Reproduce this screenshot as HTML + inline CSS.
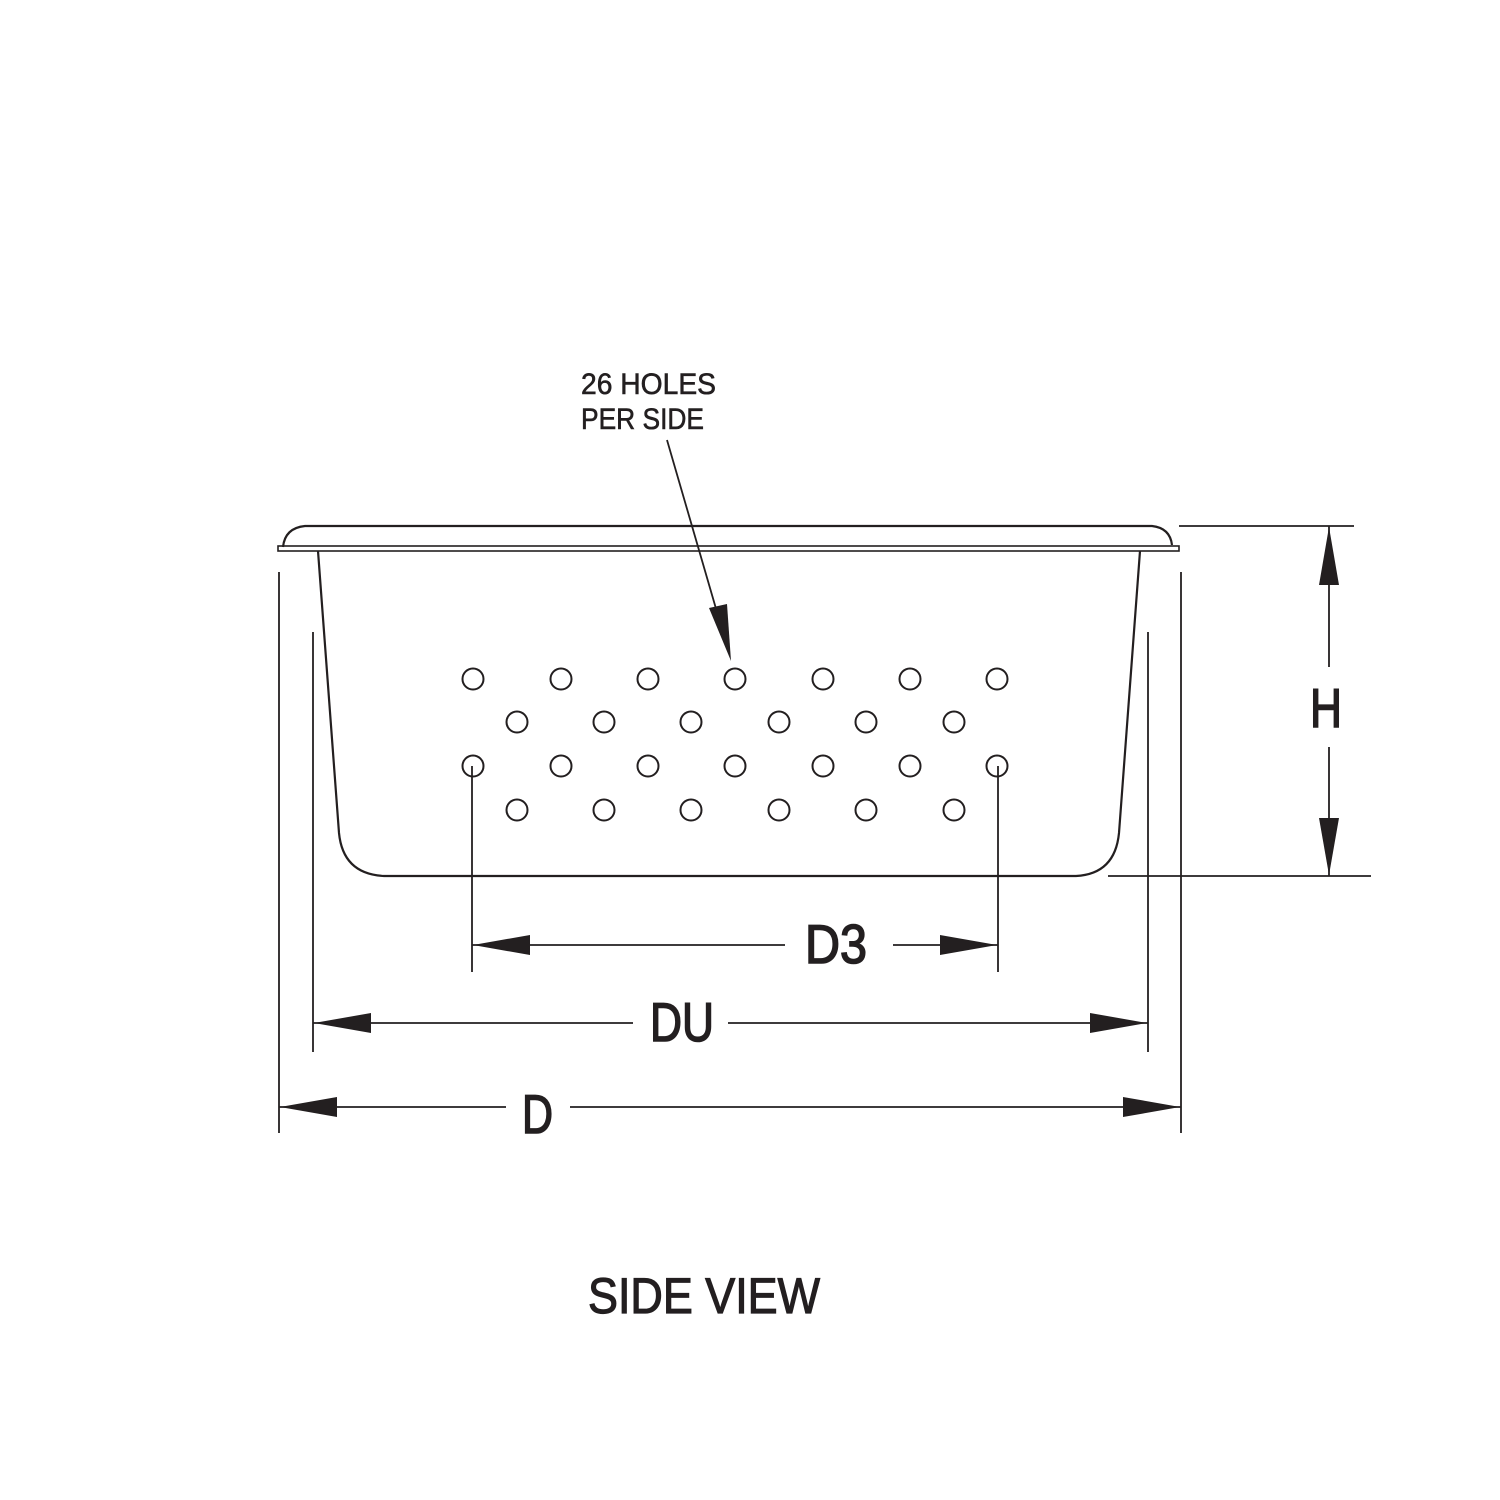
<!DOCTYPE html>
<html><head><meta charset="utf-8"><style>html,body{margin:0;padding:0;background:#fff}svg{display:block}</style></head><body>
<svg width="1500" height="1500" viewBox="0 0 1500 1500" xmlns="http://www.w3.org/2000/svg">
<g stroke="#231f20" fill="none" stroke-width="2.2">
<path d="M283 547 Q285 528 305 526 L1152 526 Q1170 528 1172 545"/>
<rect x="278" y="546" width="901" height="5" stroke-width="1.6"/>
<path d="M318 551 L339 833 Q343 874 384 876 L1076 876 Q1115 874 1119 833 L1140 551"/>
<g stroke-width="1.8">
<line x1="279" y1="572" x2="279" y2="1133"/>
<line x1="1181" y1="572" x2="1181" y2="1133"/>
<line x1="313" y1="632" x2="313" y2="1052"/>
<line x1="1148" y1="632" x2="1148" y2="1052"/>
<line x1="472" y1="766" x2="472" y2="972"/>
<line x1="998" y1="766" x2="998" y2="972"/>
<line x1="1179" y1="526" x2="1354" y2="526"/>
<line x1="1108" y1="876" x2="1371" y2="876"/>
<line x1="1329" y1="526" x2="1329" y2="667"/>
<line x1="1329" y1="747" x2="1329" y2="876"/>
<line x1="472" y1="945" x2="785" y2="945"/>
<line x1="893" y1="945" x2="998" y2="945"/>
<line x1="313" y1="1023" x2="633" y2="1023"/>
<line x1="728" y1="1023" x2="1148" y2="1023"/>
<line x1="279" y1="1107" x2="506" y2="1107"/>
<line x1="570" y1="1107" x2="1181" y2="1107"/>
<line x1="667" y1="440" x2="728" y2="650"/>
</g>
<g stroke-width="2">
<circle cx="473" cy="679" r="10.5"/><circle cx="561" cy="679" r="10.5"/><circle cx="648" cy="679" r="10.5"/><circle cx="735" cy="679" r="10.5"/><circle cx="823" cy="679" r="10.5"/><circle cx="910" cy="679" r="10.5"/><circle cx="997" cy="679" r="10.5"/>
<circle cx="517" cy="722" r="10.5"/><circle cx="604" cy="722" r="10.5"/><circle cx="691" cy="722" r="10.5"/><circle cx="779" cy="722" r="10.5"/><circle cx="866" cy="722" r="10.5"/><circle cx="954" cy="722" r="10.5"/>
<circle cx="473" cy="766" r="10.5"/><circle cx="561" cy="766" r="10.5"/><circle cx="648" cy="766" r="10.5"/><circle cx="735" cy="766" r="10.5"/><circle cx="823" cy="766" r="10.5"/><circle cx="910" cy="766" r="10.5"/><circle cx="997" cy="766" r="10.5"/>
<circle cx="517" cy="810" r="10.5"/><circle cx="604" cy="810" r="10.5"/><circle cx="691" cy="810" r="10.5"/><circle cx="779" cy="810" r="10.5"/><circle cx="866" cy="810" r="10.5"/><circle cx="954" cy="810" r="10.5"/>
</g>
</g>
<g fill="#231f20">
<polygon points="1329,527 1319,585 1339,585"/>
<polygon points="1329,875 1319,818 1339,818"/>
<polygon points="473,945 530,935 530,955"/>
<polygon points="997,945 940,935 940,955"/>
<polygon points="314,1023 371,1013 371,1033"/>
<polygon points="1147,1023 1090,1013 1090,1033"/>
<polygon points="280,1107 337,1097 337,1117"/>
<polygon points="1180,1107 1123,1097 1123,1117"/>
<polygon points="731,661 709,608 727,604"/>
</g>
<g fill="#231f20" stroke="#231f20" font-family="Liberation Sans, sans-serif">
<text x="581" y="394" font-size="30" stroke-width="0.6" textLength="135" lengthAdjust="spacingAndGlyphs">26 HOLES</text>
<text x="581" y="429" font-size="30" stroke-width="0.6" textLength="123" lengthAdjust="spacingAndGlyphs">PER SIDE</text>
<text x="1310" y="727" font-size="55" stroke-width="1.6" textLength="32" lengthAdjust="spacingAndGlyphs">H</text>
<text x="805" y="963" font-size="55" stroke-width="1.6" textLength="62" lengthAdjust="spacingAndGlyphs">D3</text>
<text x="650" y="1041" font-size="55" stroke-width="1.6" textLength="64" lengthAdjust="spacingAndGlyphs">DU</text>
<text x="522" y="1133" font-size="55" stroke-width="1.6" textLength="31" lengthAdjust="spacingAndGlyphs">D</text>
<text x="588" y="1313" font-size="50" stroke-width="1.2" textLength="232" lengthAdjust="spacingAndGlyphs">SIDE VIEW</text>
</g>
</svg>
</body></html>
